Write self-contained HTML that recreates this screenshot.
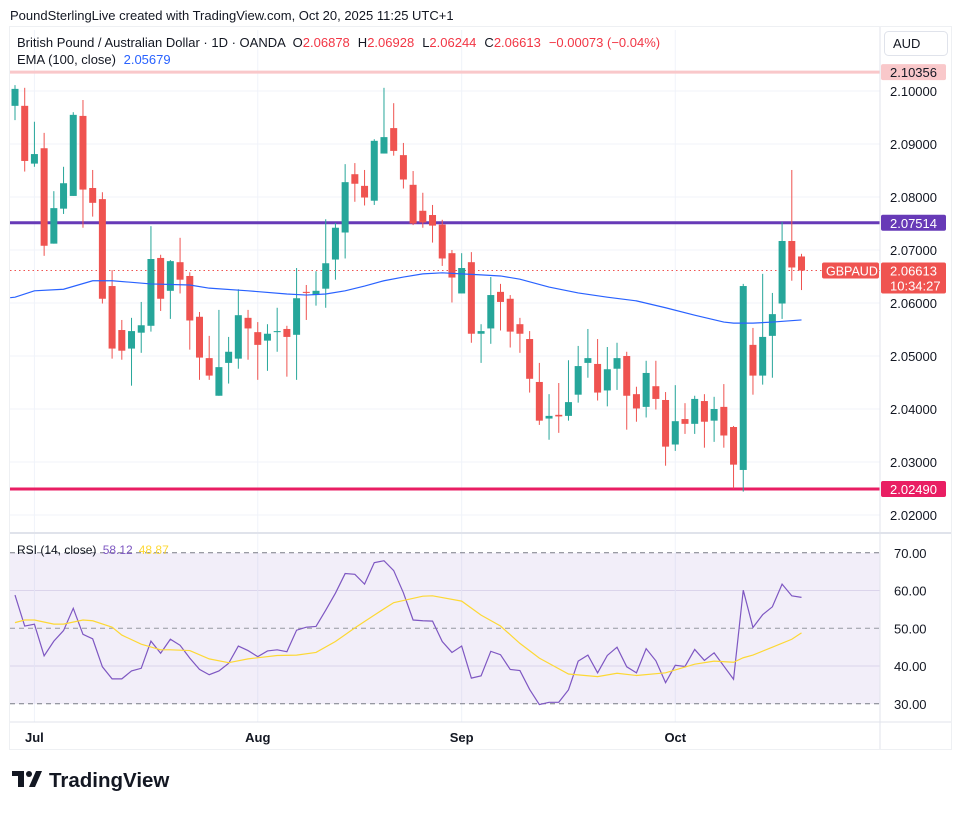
<!DOCTYPE html>
<html><head><meta charset="utf-8"><style>
html,body{margin:0;padding:0;background:#fff;}
body{width:962px;height:810px;overflow:hidden;font-family:"Liberation Sans",sans-serif;}
svg text{font-family:"Liberation Sans",sans-serif;}
</style></head><body>
<svg id="c" width="962" height="810" viewBox="0 0 962 810" xmlns="http://www.w3.org/2000/svg">
<rect x="0" y="0" width="962" height="810" fill="#fff"/>
<text x="10" y="20" font-size="13" fill="#131722">PoundSterlingLive created with TradingView.com, Oct 20, 2025 11:25 UTC+1</text>
<g id="grid"></g>
<rect x="10" y="553" width="870" height="151" fill="#7e57c2" fill-opacity="0.1"/>
<g id="levels"></g>
<g id="candles"></g>
<g id="rsi"></g>
<g id="axis"></g>
<line x1="880" y1="26" x2="880" y2="750" stroke="#e0e3eb"/>
<line x1="9" y1="533" x2="952" y2="533" stroke="#e0e3eb" stroke-width="2"/>
<line x1="9" y1="722" x2="952" y2="722" stroke="#e0e3eb"/>
<rect x="9.5" y="26.5" width="942" height="723" fill="none" stroke="#eef0f3"/>
<text x="17" y="47" font-size="13" fill="#131722">British Pound / Australian Dollar · 1D · OANDA <tspan dx="4">O</tspan><tspan fill="#f23645">2.06878</tspan><tspan dx="8">H</tspan><tspan fill="#f23645">2.06928</tspan><tspan dx="8">L</tspan><tspan fill="#f23645">2.06244</tspan><tspan dx="8">C</tspan><tspan fill="#f23645">2.06613</tspan><tspan dx="8" fill="#f23645">−0.00073 (−0.04%)</tspan></text>
<text x="17" y="64" font-size="13" fill="#131722">EMA (100, close) <tspan dx="4" fill="#2962ff">2.05679</tspan></text>
<text x="17" y="554" font-size="12" fill="#131722">RSI (14, close) <tspan dx="3" fill="#7e57c2">58.12</tspan><tspan dx="6" fill="#fdd835">48.87</tspan></text>
<rect x="884.5" y="31.5" width="63" height="24" rx="4" fill="#fff" stroke="#e0e3eb"/>
<text x="893" y="48" font-size="13" fill="#131722">AUD</text>
<g id="time"></g>
<g>
<rect x="12" y="771" width="12" height="5" fill="#131722"/><rect x="18" y="771" width="6" height="16" fill="#131722"/>
<circle cx="29" cy="774" r="3" fill="#131722"/><polygon points="36,771 42,771 35,787 29,787" fill="#131722"/>
<text x="49" y="787" font-size="20.5" font-weight="bold" fill="#131722">TradingView</text>
</g>
</svg>
<script>
// ---- price data (daily GBP/AUD) ----
const opens=[2.0972,2.0972,2.0863,2.0892,2.0712,2.0778,2.0802,2.0953,2.0817,2.0796,2.0632,2.0549,2.0514,2.0544,2.0557,2.0685,2.0623,2.0677,2.0651,2.0574,2.0496,2.0425,2.0487,2.0495,2.0572,2.0545,2.0529,2.0545,2.0551,2.0540,2.0621,2.0615,2.0627,2.0682,2.0733,2.0843,2.0821,2.0793,2.0882,2.0930,2.0879,2.0823,2.0774,2.0766,2.0748,2.0694,2.0618,2.0677,2.0542,2.0552,2.0621,2.0608,2.0560,2.0532,2.0451,2.0382,2.0389,2.0387,2.0427,2.0487,2.0485,2.0435,2.0476,2.0500,2.0428,2.0404,2.0443,2.0417,2.0333,2.0381,2.0372,2.0415,2.0378,2.0404,2.0366,2.0285,2.0521,2.0463,2.0538,2.0599,2.0717,2.06878];
const highs=[2.1011,2.1006,2.0942,2.0921,2.0811,2.0857,2.0960,2.0983,2.0851,2.0809,2.0662,2.0568,2.0572,2.0602,2.0745,2.0691,2.0681,2.0723,2.0658,2.0583,2.0538,2.0587,2.0536,2.0626,2.0587,2.0564,2.0560,2.0591,2.0557,2.0666,2.0634,2.0660,2.0758,2.0751,2.0862,2.0864,2.0851,2.0909,2.1006,2.0977,2.0902,2.0849,2.0808,2.0785,2.0757,2.0700,2.0694,2.0696,2.0560,2.0649,2.0636,2.0615,2.0572,2.0547,2.0487,2.0428,2.0449,2.0492,2.0519,2.0551,2.0532,2.0517,2.0525,2.0508,2.0442,2.0491,2.0491,2.0432,2.0445,2.0411,2.0425,2.0428,2.0423,2.0447,2.0368,2.0636,2.0553,2.0655,2.0619,2.0753,2.0851,2.06928];
const lows=[2.0945,2.0848,2.0857,2.0689,2.0712,2.0768,2.0802,2.0742,2.0763,2.0599,2.0495,2.0493,2.0444,2.0506,2.0546,2.0585,2.0570,2.0618,2.0512,2.0455,2.0455,2.0425,2.0448,2.0476,2.0493,2.0455,2.0472,2.0508,2.0461,2.0455,2.0568,2.0595,2.0591,2.0644,2.0684,2.0791,2.0784,2.0785,2.0882,2.0878,2.0816,2.0747,2.0742,2.0714,2.0670,2.0601,2.0618,2.0525,2.0487,2.0523,2.0548,2.0516,2.0506,2.0431,2.0370,2.0342,2.0355,2.0378,2.0412,2.0459,2.0416,2.0405,2.0436,2.0361,2.0376,2.0384,2.0399,2.0293,2.0321,2.0353,2.0353,2.0327,2.0338,2.0327,2.0250,2.0244,2.0427,2.0446,2.0459,2.0570,2.0642,2.06244];
const closes=[2.1004,2.0868,2.0881,2.0708,2.0779,2.0826,2.0955,2.0814,2.0789,2.0608,2.0514,2.0510,2.0547,2.0558,2.0683,2.0608,2.0679,2.0644,2.0567,2.0497,2.0463,2.0479,2.0508,2.0577,2.0552,2.0521,2.0542,2.0547,2.0536,2.0609,2.0619,2.0623,2.0675,2.0742,2.0828,2.0825,2.0799,2.0906,2.0913,2.0887,2.0833,2.0750,2.0752,2.0746,2.0684,2.0648,2.0666,2.0542,2.0547,2.0615,2.0602,2.0546,2.0542,2.0457,2.0378,2.0387,2.0386,2.0413,2.0481,2.0496,2.0431,2.0475,2.0496,2.0425,2.0401,2.0468,2.0419,2.0329,2.0377,2.0372,2.0419,2.0376,2.0400,2.0350,2.0295,2.0632,2.0463,2.0536,2.0579,2.0717,2.0667,2.06613];
const emaIdx=[-0.5,0,2,5,8,10,14,18,20,24,28,30,32,34,36,38,40,42,44,46,48,50,52,55,58,61,64,67,70,73,74,76,78,81];
const emaVals=[2.0610,2.0611,2.0623,2.0626,2.0642,2.0642,2.0636,2.0634,2.0628,2.0623,2.0617,2.0615,2.0617,2.0623,2.0632,2.0642,2.0649,2.0655,2.0657,2.0655,2.0653,2.0651,2.0645,2.0630,2.0619,2.0611,2.0604,2.0591,2.0577,2.0564,2.0562,2.0562,2.0564,2.0568];
const rsiVals=[58.8,50.6,51.1,42.7,46.6,49.4,55.3,48.4,47.2,39.8,36.6,36.6,38.7,39.4,46.6,43.4,47.1,45.5,42.1,39.1,37.7,38.7,40.7,45.3,44.1,42.5,44.0,44.3,43.8,49.5,50.3,50.5,54.8,59.3,64.5,64.3,61.7,67.4,67.9,65.3,59.4,52.2,52.0,51.9,46.5,43.6,45.3,36.8,37.4,43.9,43.0,39.1,38.8,33.8,29.8,30.4,30.4,33.7,41.3,42.9,38.2,42.8,45.0,39.8,38.2,44.6,41.4,35.6,40.2,39.9,44.4,41.5,43.5,40.0,36.5,60.1,50.2,53.6,55.7,61.7,58.6,58.2];
const rsiMaIdx=[0,1,2,4,5,7,8,10,11,13,15,16,18,20,22,24,27,29,31,33,35,37,39,42,43,46,48,50,52,54,57,60,62,64,67,70,72,74,75,76,78,80,81];
const rsiMaVals=[51.5,52.2,52.2,51.1,51.1,52.2,52.0,50.3,48.2,45.8,44.3,44.3,44.1,41.9,40.9,41.9,42.8,42.9,43.6,46.5,50.1,53.5,56.8,58.5,58.6,57.2,53.5,50.6,46.0,42.1,37.9,37.2,38.1,37.5,38.2,40.5,41.3,41.0,42.2,42.9,45.0,47.1,48.8];
const priceTicks=[2.02,2.03,2.04,2.05,2.06,2.07,2.08,2.09,2.10];
const rsiTicks=[30,40,50,60,70];
const monthLabels=["Jul","Aug","Sep","Oct"];
const monthIdx=[2,25,46,68];
const levelVals=[2.10356,2.07514,2.02490];

const NS="http://www.w3.org/2000/svg";
function mk(tag,attrs,parent){const e=document.createElementNS(NS,tag);for(const k in attrs)e.setAttribute(k,attrs[k]);parent.appendChild(e);return e;}
const X=i=>15+i*9.71;
const Y=p=>91+(2.10-p)*5300;
const RY=v=>628.3-(v-50)*3.775;
const G=document.getElementById('grid'),L=document.getElementById('levels'),C=document.getElementById('candles'),R=document.getElementById('rsi'),A=document.getElementById('axis'),T=document.getElementById('time');

priceTicks.forEach(p=>{
  const l=mk('line',{x1:10,x2:880,y1:Y(p),y2:Y(p),stroke:'#f0f3fa'},G);
  
  
  const t=mk('text',{x:890,y:Y(p)+5,'font-size':13,fill:'#131722'},A);
  t.textContent=p.toFixed(5);
  
  
});
[40,60].forEach(v=>{
  const l=mk('line',{x1:10,x2:880,y1:RY(v),y2:RY(v),stroke:'#e6e3f0'},G);
  
  
});
monthIdx.forEach((mi,k)=>{
  const x=X(mi);
  const l=mk('line',{x1:x,x2:x,y1:30,y2:722,stroke:'#f0f3fa'},G);
  
  
  const t=mk('text',{x:x,y:742,'font-size':13,'font-weight':'bold','text-anchor':'middle',fill:'#131722'},T);
  t.textContent=monthLabels[k];
  
  
});
[50,30,70].forEach(v=>{
  const l=mk('line',{x1:10,x2:880,y1:RY(v),y2:RY(v),stroke:v===50?'#9598a1':'#787b86','stroke-dasharray':'5,4','stroke-width':1},R);
  
  
});
rsiTicks.forEach(v=>{
  const t=mk('text',{x:894,y:RY(v)+5,'font-size':13,fill:'#131722'},A);
  t.textContent=v.toFixed(2);
  
  
});

// levels
const levelColors=['#f9c8ca','#673ab7','#e91e63'];
levelVals.forEach((v,k)=>{
  const l=mk('line',{x1:10,x2:880,y1:Y(v),y2:Y(v),stroke:levelColors[k],'stroke-width':3},L);
  
  
  const r=mk('rect',{x:881,y:Y(v)-8,width:65,height:16,rx:2,fill:levelColors[k]},A);
  
  
  const t=mk('text',{x:890,y:Y(v)+5,'font-size':13,fill:k===0?'#131722':'#fff'},A);
  t.textContent=v.toFixed(5);
  
  
});
const lastP=closes[closes.length-1];
const cl=mk('line',{x1:10,x2:880,y1:Y(lastP),y2:Y(lastP),stroke:'#ef5350','stroke-dasharray':'1.5,3'},L);



// candles
for(let i=0;i<opens.length;i++){
  const up=closes[i]>=opens[i];const col=up?'#26a69a':'#ef5350';
  const g=mk('g',{},C);
  
  
  mk('line',{x1:X(i),x2:X(i),y1:Y(highs[i]),y2:Y(lows[i]),stroke:col,'stroke-width':1},g);
  const top=Y(Math.max(opens[i],closes[i])),bot=Y(Math.min(opens[i],closes[i]));
  mk('rect',{x:X(i)-3.5,y:top,width:7,height:Math.max(1,bot-top),fill:col},g);
}
// EMA
const ema=mk('polyline',{points:emaIdx.map((i,k)=>X(i)+','+Y(emaVals[k])).join(' '),fill:'none',stroke:'#2962ff','stroke-width':1.2},C);


// RSI
const rl=mk('polyline',{points:rsiVals.map((v,i)=>X(i)+','+RY(v)).join(' '),fill:'none',stroke:'#7e57c2','stroke-width':1.2},R);


const rm=mk('polyline',{points:rsiMaIdx.map((i,k)=>X(i)+','+RY(rsiMaVals[k])).join(' '),fill:'none',stroke:'#fdd835','stroke-width':1.2},R);



// current price tags
const py=Y(lastP);
const sr=mk('rect',{x:822,y:py-8,width:57,height:16,rx:2,fill:'#ef5350'},A);


const st=mk('text',{x:826,y:py+5,'font-size':12.5,fill:'#fff'},A);
st.textContent='GBPAUD';


const pr=mk('rect',{x:881,y:py-8,width:65,height:31,rx:2,fill:'#ef5350'},A);


const pt=mk('text',{x:890,y:py+5,'font-size':13,fill:'#fff'},A);
pt.textContent=lastP.toFixed(5);


const ct=mk('text',{x:890,y:py+20,'font-size':13,fill:'#fff'},A);
ct.textContent='10:34:27';


</script>
</body></html>
